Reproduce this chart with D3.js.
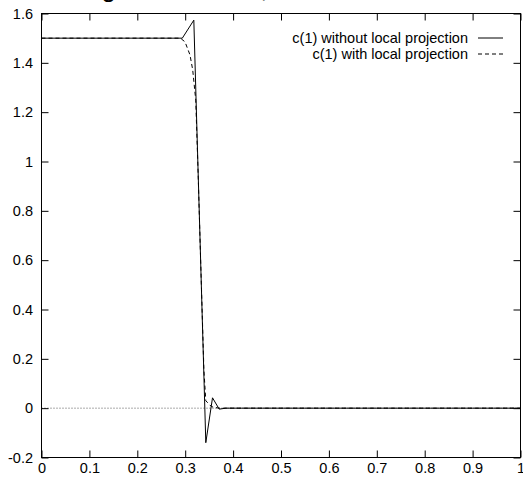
<!DOCTYPE html>
<html>
<head>
<meta charset="utf-8">
<script src="https://cdn.jsdelivr.net/npm/d3@7"></script>
<style>
  html, body { margin: 0; padding: 0; background: #fff; }
  svg { display: block; }
  text { font-family: "Liberation Sans", Arial, Helvetica, sans-serif; fill: #000; }
</style>
</head>
<body>
<svg id="chart" width="523" height="487"></svg>
<script>
// ---- data ----
const seriesNames = ["c(1) without local projection", "c(1) with local projection"];
const xWithout = [0, 0.294, 0.318, 0.343, 0.357, 0.371, 0.385, 1];
const yWithout = [1.5, 1.5, 1.573, -0.14, 0.042, -0.004, 0, 0];
const xWith = [0, 0.29, 0.2996, 0.310, 0.3157, 0.322, 0.327, 0.333, 0.339, 0.343, 0.355, 0.37, 1];
const yWith = [1.5, 1.5, 1.485, 1.432, 1.371, 1.249, 0.95, 0.55, 0.155, 0.03, 0.006, 0, 0];
const xTicks = [0, 0.1, 0.2, 0.3, 0.4, 0.5, 0.6, 0.7, 0.8, 0.9, 1];
const yTicks = [-0.2, 0, 0.2, 0.4, 0.6, 0.8, 1, 1.2, 1.4, 1.6];
const titleText = "Single shock test, no limiter";

// ---- layout ----
const svg = d3.select("#chart");
const pL = 41.5, pR = 520.5, pT = 13.5, pB = 457.5;
const x = d3.scaleLinear().domain([0, 1]).range([pL, pR]);
const y = d3.scaleLinear().domain([-0.2, 1.6]).range([pB, pT]);
const fmt = d => (Math.abs(d) < 1e-9 ? "0" : String(+d.toFixed(1)));

// clipped title (only descenders visible in the reference)
svg.append("text")
  .attr("x", 64).attr("y", -3)
  .style("font-size", "26px")
  .text(titleText);

// zero line (dotted)
svg.append("line")
  .attr("x1", x(0)).attr("x2", x(1))
  .attr("y1", y(0)).attr("y2", y(0))
  .attr("stroke", "#555").attr("stroke-width", 1)
  .attr("stroke-dasharray", "1,2");

// axes (ticks inward, mirrored)
const tickLen = 7;
const axB = d3.axisBottom(x).tickValues(xTicks).tickSize(-tickLen).tickPadding(5).tickFormat(fmt);
const axT = d3.axisTop(x).tickValues(xTicks).tickSize(-tickLen).tickFormat("");
const axL = d3.axisLeft(y).tickValues(yTicks).tickSize(-tickLen).tickPadding(8.5).tickFormat(fmt);
const axR = d3.axisRight(y).tickValues(yTicks).tickSize(-tickLen).tickFormat("");

function styleAxis(g) {
  g.select(".domain").remove();
  g.selectAll(".tick line").attr("stroke", "#000").attr("stroke-width", 1);
  g.selectAll("text").style("font-size", "14.5px").attr("fill", "#000");
}
svg.append("g").attr("transform", `translate(0,${pB})`).call(axB).call(styleAxis);
svg.append("g").attr("transform", `translate(0,${pT})`).call(axT).call(styleAxis);
svg.append("g").attr("transform", `translate(${pL},0)`).call(axL).call(styleAxis);
svg.append("g").attr("transform", `translate(${pR},0)`).call(axR).call(styleAxis);

// frame
svg.append("rect")
  .attr("x", pL).attr("y", pT)
  .attr("width", pR - pL).attr("height", pB - pT)
  .attr("fill", "none").attr("stroke", "#000").attr("stroke-width", 1);

// series
const line = d3.line().x(d => x(d[0])).y(d => y(d[1]));
const dataWithout = xWithout.map((v, i) => [v, yWithout[i]]);
const dataWith = xWith.map((v, i) => [v, yWith[i]]);

svg.append("path").datum(dataWith)
  .attr("d", line).attr("fill", "none")
  .attr("stroke", "#000").attr("stroke-width", 1)
  .attr("stroke-dasharray", "4,3");
svg.append("path").datum(dataWithout)
  .attr("d", line).attr("fill", "none")
  .attr("stroke", "#000").attr("stroke-width", 1);

// legend
const legendDash = [null, "4,3"];
const lg = svg.append("g");
seriesNames.forEach((name, i) => {
  const yy = 38 + i * 16;
  lg.append("text")
    .attr("x", 468).attr("y", yy).attr("dy", "0.35em")
    .attr("text-anchor", "end")
    .style("font-size", "14.5px")
    .text(name);
  lg.append("line")
    .attr("x1", 478).attr("x2", 503)
    .attr("y1", yy).attr("y2", yy)
    .attr("stroke", "#000").attr("stroke-width", 1)
    .attr("stroke-dasharray", legendDash[i]);
});
</script>
</body>
</html>
